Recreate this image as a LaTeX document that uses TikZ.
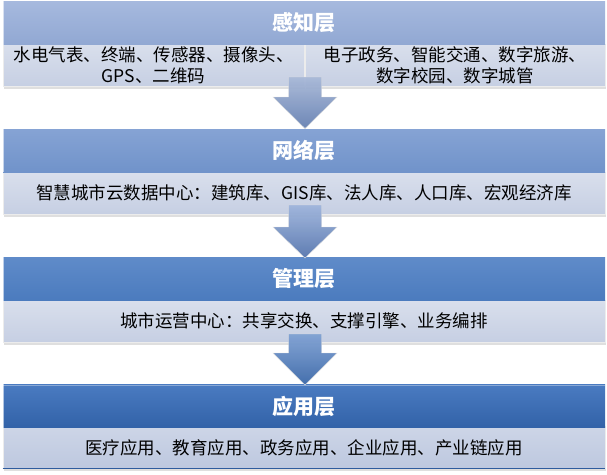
\documentclass[tikz,border=0pt]{standalone}
\usepackage{fontspec}
\setmainfont{Noto Sans CJK SC}
\usetikzlibrary{calc,shadows}
\definecolor{hAtop}{HTML}{A6B9DE}
\definecolor{hAbot}{HTML}{91A8D3}
\definecolor{hBtop}{HTML}{86A3D4}
\definecolor{hBbot}{HTML}{7093CA}
\definecolor{hCtop}{HTML}{5F8BC9}
\definecolor{hCbot}{HTML}{4B7BBE}
\definecolor{hDtop}{HTML}{4A7BC1}
\definecolor{hDbot}{HTML}{3262A8}
\definecolor{subtop}{HTML}{D9DFEC}
\definecolor{subbot}{HTML}{C6CFE3}
\definecolor{subDtop}{HTML}{CDD5E7}
\definecolor{subDbot}{HTML}{BDC8DF}
\definecolor{edgeD}{HTML}{2E5C9E}
\definecolor{aAtop}{HTML}{A9B9D8}
\definecolor{aAbot}{HTML}{6580B2}
\definecolor{aBtop}{HTML}{9FB5DC}
\definecolor{aBbot}{HTML}{5575AE}
\definecolor{aCtop}{HTML}{7FA1D3}
\definecolor{aCbot}{HTML}{3A67A8}
\tikzset{
  header/.style={minimum width=602pt, minimum height=43pt, inner sep=0pt,
    text=white, font=\fontsize{21}{24}\selectfont\bfseries},
  subrow/.style={minimum height=42pt, inner sep=0pt, align=center,
    top color=subtop, bottom color=subbot, draw=white!85!gray, line width=0.6pt,
    font=\fontsize{17.5}{21}\selectfont,
    drop shadow={opacity=0.25, shadow xshift=1pt, shadow yshift=-2.5pt}},
  flowarrow/.style={draw=white!75!gray, line width=0.4pt, opacity=0.95}
}
\newcommand\layerarrow[6]{% x, ytop, yhead, ytip, topcolor, bottomcolor
  \shade[flowarrow, top color=#5, bottom color=#6]
    (#1-16.5,#2) -- (#1+16.5,#2) -- (#1+16.5,#3) -- (#1+32,#3) -- (#1,#4)
    -- (#1-32,#3) -- (#1-16.5,#3) -- cycle;}
\begin{document}
\begin{tikzpicture}[x=1pt,y=-1pt]
\useasboundingbox (0,0) rectangle (607,474);
\fill[white] (0,0) rectangle (607,474);
% layer 1
\node[subrow, minimum width=301pt] (s1a) at (153.5,65) {水电气表、终端、传感器、摄像头、\\GPS、二维码};
\node[subrow, minimum width=300pt] (s1b) at (455,65) {电子政务、智能交通、数字旅游、\\数字校园、数字城管};
\node[header, top color=hAtop, bottom color=hAbot] (h1) at (304,23) {感知层};
% layer 2
\node[subrow, minimum width=602pt] (s2) at (304,193) {智慧城市云数据中心：建筑库、GIS库、法人库、人口库、宏观经济库};
\node[header, top color=hBtop, bottom color=hBbot] (h2) at (304,150.5) {网络层};
% layer 3
\node[subrow, minimum width=602pt] (s3) at (304,321) {城市运营中心：共享交换、支撑引擎、业务编排};
\node[header, top color=hCtop, bottom color=hCbot] (h3) at (304,279) {管理层};
% layer 4
\node[subrow, minimum width=602pt, top color=subDtop, bottom color=subDbot] (s4) at (304,447.5) {医疗应用、教育应用、政务应用、企业应用、产业链应用};
\draw[edgeD, line width=1.2pt] (s4.south west) -- (s4.south east);
\node[header, top color=hDtop, bottom color=hDbot] (h4) at (304,406) {应用层};
\draw[white, opacity=0.35, line width=1.5pt] ([yshift=-1pt]h4.north west) -- ([yshift=-1pt]h4.north east);
% left highlight edges
\foreach \h in {h1,h2,h3,h4} {
  \draw[white, opacity=0.6, line width=1.2pt] ([xshift=0.6pt]\h.north west) -- ([xshift=0.6pt]\h.south west);
}
% arrows
\layerarrow{305}{77}{97}{128.5}{aAtop}{aAbot}
\layerarrow{305}{205}{227}{258}{aBtop}{aBbot}
\layerarrow{305}{334}{353}{385}{aCtop}{aCbot}
\end{tikzpicture}
\end{document}
